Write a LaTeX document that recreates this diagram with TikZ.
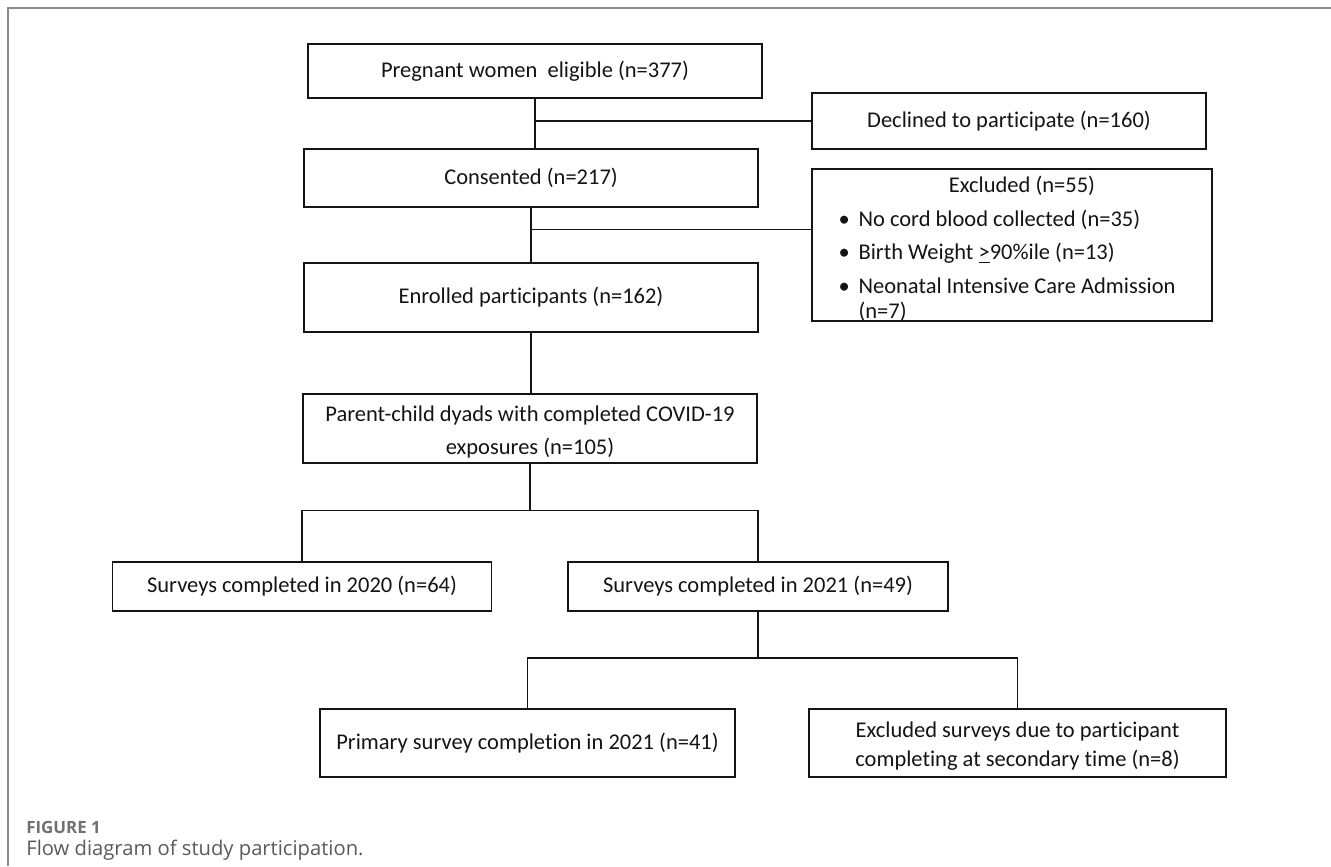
\documentclass[tikz,border=0pt]{standalone}
\usepackage{fontspec}
\setmainfont{Carlito}[Ligatures={NoCommon}]
\newfontfamily\capfont{Open Sans}
\usetikzlibrary{positioning, calc}
\definecolor{Ink}{HTML}{141414}
\definecolor{Frame}{HTML}{8C8C8C}
\definecolor{CapGray}{HTML}{707070}
\definecolor{CapText}{HTML}{5A5A5A}
\tikzset{
  stage/.style={draw=Ink, line width=0.85pt, inner sep=0pt, align=center, text=Ink, font=\fontsize{12.8}{16.4}\selectfont},
  listtext/.style={inner sep=0pt, text=Ink, font=\fontsize{12.8}{14.2}\selectfont},
  link/.style={draw=Ink, line width=0.85pt},
  frameline/.style={draw=Frame, line width=0.8pt},
  caphead/.style={anchor=base west, inner sep=0pt, text=CapGray, font=\capfont\bfseries\fontsize{9.6}{11}\selectfont},
  captext/.style={anchor=base west, inner sep=0pt, text=CapText, font=\capfont\fontsize{11.5}{13}\selectfont},
}

\begin{document}
\begin{tikzpicture}[x=0.02cm, y=-0.02cm]
  \useasboundingbox (0,0) rectangle (1331,866);
  % page frame
  \draw[frameline] (8,866) -- (8,8) -- (1331,8);

  % main column
  \node[stage, minimum width=9.08cm, minimum height=1.08cm] (preg) at (535,71) {Pregnant women~ eligible (n=377)};
  \node[stage, minimum width=9.08cm, minimum height=1.16cm] (cons) at (531,178) {Consented (n=217)};
  \node[stage, minimum width=9.08cm, minimum height=1.38cm] (enrl) at (531,297.5) {Enrolled participants (n=162)};
  \node[stage, minimum width=9.08cm, minimum height=1.38cm, font=\fontsize{12.8}{18.7}\selectfont] (dyad) at (530,428.5) {\rule{0pt}{13pt}Parent-child dyads with completed COVID-19\\exposures (n=105)};

  % side boxes
  \node[stage, minimum width=7.88cm, minimum height=1.12cm] (decl) at (1009,121) {Declined to participate (n=160)};
  \node[stage, minimum width=8cm, minimum height=3.04cm] (excl) at (1012,245) {};
  \node[listtext] (excllist) at ($(excl.center)+(-5,5.5)$) {%
    \begin{tabular}{@{}p{0.4cm}@{}l@{}}
      \multicolumn{2}{c}{\hspace{0.6cm}Excluded (n=55)}\\[4.9pt]
      \textbullet & No cord blood collected (n=35)\\[4.9pt]
      \textbullet & Birth Weight \underline{>}90\%ile (n=13)\\[4.9pt]
      \textbullet & Neonatal Intensive Care Admission\\
                  & (n=7)
    \end{tabular}};

  % survey years
  \node[stage, minimum width=7.58cm, minimum height=0.98cm] (s2020) at (302,586.5) {Surveys completed in 2020 (n=64)};
  \node[stage, minimum width=7.6cm, minimum height=0.98cm] (s2021) at (758,586.5) {Surveys completed in 2021 (n=49)};
  \node[stage, minimum width=8.3cm, minimum height=1.36cm] (prim) at (527.5,743) {Primary survey completion in 2021 (n=41)};
  \node[stage, minimum width=8.34cm, minimum height=1.36cm] (exsv) at (1017.5,743) {\rule{0pt}{12pt}Excluded surveys due to participant\\completing at secondary time (n=8)};

  % connectors
  \draw[link] (preg.south) -- (preg.south |- cons.north);
  \draw[link] (preg.south |- decl.west) -- (decl.west);
  \coordinate (jx) at ($(cons.south)!0.4!(enrl.north)$);
  \draw[link] (cons.south) -- (enrl.north);
  \draw[link] (jx) -- (jx -| excl.west);
  \draw[link] (enrl.south) -- (enrl.south |- dyad.north);
  \coordinate (jy) at ($(dyad.south)+(0,47)$);
  \draw[link] (dyad.south) -- (jy);
  \draw[link] (s2020.north) -- (s2020.north |- jy) -- (s2021.north |- jy) -- (s2021.north);
  \coordinate (jz) at ($(s2021.south)+(0,46)$);
  \draw[link] (s2021.south) -- (jz);
  \draw[link] (prim.north) -- (prim.north |- jz) -- (exsv.north |- jz) -- (exsv.north);

  % caption
  \node[caphead] (fighead) at (26,833) {FIGURE 1};
  \node[captext] (figtext) at (26,855) {Flow diagram of study participation.};
\end{tikzpicture}
\end{document}
